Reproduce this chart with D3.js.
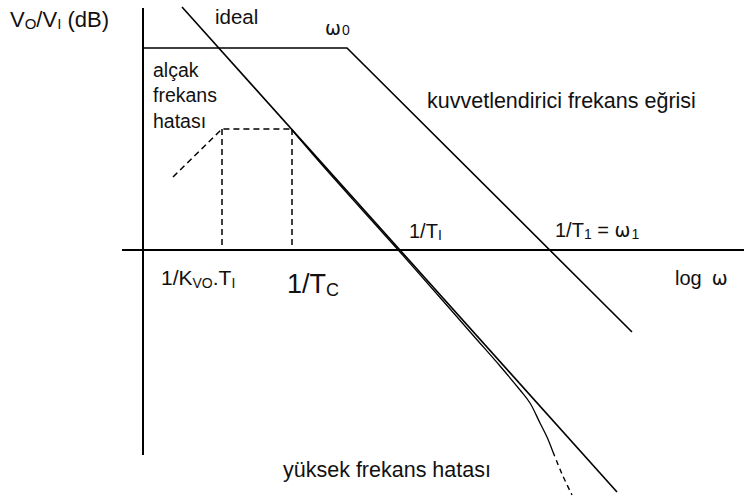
<!DOCTYPE html>
<html>
<head>
<meta charset="utf-8">
<script src="https://cdn.jsdelivr.net/npm/d3@7"></script>
<style>
  html, body { margin: 0; padding: 0; background: #fff; }
  svg { display: block; }
  text { font-family: "Liberation Sans", Arial, Helvetica, sans-serif; fill: #111; }
  tspan.greek { font-family: "DejaVu Sans", sans-serif; }
</style>
</head>
<body>
<svg id="chart" width="744" height="500"></svg>
<script>
// Bode magnitude sketch: log ω (decades) on x, gain in dB on y.

// Amplifier open-loop response: flat gain up to ω0, then -20 dB/decade
const ampLogW = [0, 2.04, 4.89];
const ampDb   = [40.4, 40.4, -16.4];

// Ideal closed-loop asymptote through 1/T_I
const idealLogW = [0.39, 4.74];
const idealDb   = [48.6, -48.4];

// Low-frequency error (dashed): rise, then flat between 1/K_VO.T_I and 1/T_C
const lowErrLogW = [0.30, 0.79, 1.49];
const lowErrDb   = [14.6, 24.2, 24.2];
const dropLogW   = [0.79, 1.49];   // dashed drops to the axis

// Real response that leaves the ideal line at high frequency
const realLogW = [1.49, 1.77, 2.17, 2.57, 2.97, 3.32, 3.57, 3.77, 3.87, 3.97, 4.04, 4.10];
const realDb   = [24.0, 17.5, 8.5, -0.4, -9.5, -17.5, -23.2, -28.0, -30.6, -34.6, -37.4, -40.4];
const tailLogW = [4.10, 4.19, 4.29];
const tailDb   = [-40.4, -44.8, -49.0];

// Axis extents
const xAxisLogW = [-0.21, 6.01];
const yAxisDb   = [48.4, -41.0];

const svg = d3.select("#chart");
const x = d3.scaleLinear().domain([0, 6]).range([143, 743]);
const y = d3.scaleLinear().domain([0, 40]).range([250, 50]);

const zip = (a, b) => a.map((v, i) => [v, b[i]]);
const line = d3.line().x(d => x(d[0])).y(d => y(d[1]));
const smooth = d3.line().x(d => x(d[0])).y(d => y(d[1])).curve(d3.curveCatmullRom.alpha(0.5));

// axes
svg.append("line")
  .attr("x1", x(xAxisLogW[0])).attr("x2", x(xAxisLogW[1]))
  .attr("y1", y(0)).attr("y2", y(0))
  .attr("stroke", "#000").attr("stroke-width", 2);
svg.append("line")
  .attr("x1", x(0)).attr("x2", x(0))
  .attr("y1", y(yAxisDb[0])).attr("y2", y(yAxisDb[1]))
  .attr("stroke", "#000").attr("stroke-width", 2);

// amplifier curve
svg.append("path").attr("d", line(zip(ampLogW, ampDb)))
  .attr("fill", "none").attr("stroke", "#000").attr("stroke-width", 1.6);

// ideal asymptote
svg.append("path").attr("d", line(zip(idealLogW, idealDb)))
  .attr("fill", "none").attr("stroke", "#000").attr("stroke-width", 1.6);

// low-frequency error
svg.append("path").attr("d", line(zip(lowErrLogW, lowErrDb)))
  .attr("fill", "none").attr("stroke", "#000").attr("stroke-width", 1.5)
  .attr("stroke-dasharray", "6,4");
svg.selectAll("line.drop").data(dropLogW).enter().append("line")
  .attr("class", "drop")
  .attr("x1", d => x(d)).attr("x2", d => x(d))
  .attr("y1", y(lowErrDb[1])).attr("y2", y(0))
  .attr("stroke", "#000").attr("stroke-width", 1.5)
  .attr("stroke-dasharray", "6,4");

// real response
svg.append("path").attr("d", smooth(zip(realLogW, realDb)))
  .attr("fill", "none").attr("stroke", "#000").attr("stroke-width", 1.3);
svg.append("path").attr("d", smooth(zip(tailLogW, tailDb)))
  .attr("fill", "none").attr("stroke", "#000").attr("stroke-width", 1.4)
  .attr("stroke-dasharray", "5,4");

// text helper: parts = [[text, size, dy, class, dx]]
function label(px, py, parts, anchor) {
  const t = svg.append("text").attr("x", px).attr("y", py)
    .attr("text-anchor", anchor || "start");
  parts.forEach(p => {
    const s = t.append("tspan").attr("font-size", p[1]).attr("dy", p[2] || 0).text(p[0]);
    if (p[3]) s.attr("class", p[3]);
    if (p[4]) s.attr("dx", p[4]);
  });
  return t;
}

label(10, 27, [["V", 22], ["O", 15, 2], ["/V", 22, -2], ["I", 15, 2], [" (dB)", 22, -2]]);
label(215, 24, [["ideal", 20.5]]);
label(325, 35, [["ω", 19, 0, "greek"], ["0", 14, 0, null, 1]]);
label(153, 77, [["alçak", 19.5]]);
label(153, 102, [["frekans", 19.5]]);
label(153, 128, [["hatası", 19.5]]);
label(427, 108, [["kuvvetlendirici frekans eğrisi", 21.5]]);
label(409, 238, [["1/T", 20], ["I", 14, 2]]);
label(555, 237, [["1/T", 20], ["1", 14, 2], [" = ", 20, -2], ["ω", 19, 0, "greek"], ["1", 14, 2, null, 1]]);
label(675, 285, [["log", 20], ["ω", 19, 0, "greek", 10]]);
label(161, 285, [["1/K", 21], ["VO", 14, 3], [".T", 21, -3], ["I", 14, 3]]);
label(287, 293, [["1/T", 27], ["C", 18, 3]]);
label(283, 477, [["yüksek frekans hatası", 21.5]]);
</script>
</body>
</html>
